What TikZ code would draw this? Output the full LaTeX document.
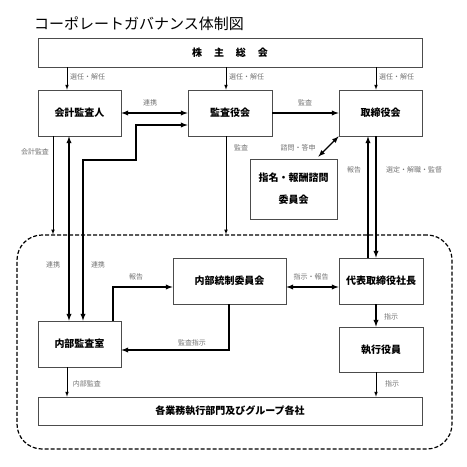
\documentclass[tikz,border=0pt]{standalone}
\usepackage{fontspec}
\setmainfont{Noto Sans CJK JP}
\usetikzlibrary{calc}
\tikzset{>=latex}
\tikzset{
    box/.style = {draw=black!70, line width=0.7pt, fill=white, inner sep=0pt,
                  minimum width=83pt, minimum height=46pt,
                  font=\bfseries\fontsize{10}{12}\selectfont},
    lab/.style = {text=black!55, inner sep=0pt, font=\fontsize{7}{8}\selectfont},
    conn/.style = {line width=0.7pt},
    connthick/.style = {line width=1.3pt},
}

\begin{document}
\begin{tikzpicture}[x=1pt,y=-1pt]

    \useasboundingbox (0,0) rectangle (467,467);

    \node[font=\fontsize{15}{18}\selectfont] (title) at (139,24) {コーポレートガバナンス体制図};

    % executive side
    \node[draw, line width=1.2pt, dash pattern=on 4pt off 2pt, rounded corners=25pt,
          minimum width=435pt, minimum height=214pt] (group) at (234.5,342) {};

    \node[box, minimum width=384pt, minimum height=29pt] (kabu) at (230,52.5) {株\hspace{12pt}主\hspace{12pt}総\hspace{12pt}会};

    \node[box] (kaikei) at (79.5,113) {会計監査人};
    \node[box, minimum width=84pt] (kansa) at (230,113) {監査役会};
    \node[box] (torishimari) at (380.5,113) {取締役会};
    \node[box, minimum width=87pt, minimum height=60pt, align=center,
          font=\bfseries\fontsize{10}{22}\selectfont] (shimei) at (293.5,189) {指名・報酬諮問\\委員会};

    \node[box, minimum width=113pt] (naibutousei) at (229.5,281) {内部統制委員会};
    \node[box, minimum width=84pt] (daihyo) at (381,281) {代表取締役社長};
    \node[box, minimum width=84pt, minimum height=45pt] (shikko) at (381,349.5) {執行役員};
    \node[box] (naibukansa) at (79.5,344) {内部監査室};
    \node[box, minimum width=384pt, minimum height=28pt] (kakubumon) at (230,411) {各業務執行部門及びグループ各社};

    % columns and rows of the connectors
    \coordinate (colA) at (53,0);
    \coordinate (colB) at (67,0);
    \coordinate (colC) at (69,0);
    \coordinate (colD) at (83,0);
    \coordinate (colE) at (113,0);
    \coordinate (colF) at (136,0);
    \coordinate (colG) at (226,0);
    \coordinate (colH) at (229,0);
    \coordinate (colR) at (368,0);
    \coordinate (colS) at (376,0);
    \coordinate (rowJ) at (0,160);
    \coordinate (rowK) at (0,125);
    \coordinate (rowL) at (0,287);
    \coordinate (rowM) at (0,350);

    \draw[conn,->] (kabu.south -| colB) -- (kaikei.north -| colB);
    \draw[conn,->] (kabu.south -| colG) -- (kansa.north -| colG);
    \draw[conn,->] (kabu.south -| colS) -- (torishimari.north -| colS);
    \node[lab, anchor=west] (sen1) at (70,77) {選任・解任};
    \node[lab, anchor=west] (sen2) at (229,77) {選任・解任};
    \node[lab, anchor=west] (sen3) at (379,77) {選任・解任};

    \draw[connthick,<->] (kaikei.east) -- (kansa.west);
    \node[lab] (renkei1) at (150,103) {連携};
    \draw[connthick,->] (kansa.east) -- (torishimari.west);
    \node[lab] (kansa1) at (305,103) {監査};

    \draw[conn,->] (kaikei.south -| colA) -- (group.north -| colA);
    \node[lab] (kaikeikansa) at (35,152) {会計監査};
    \draw[conn,->] (kansa.south -| colG) -- (group.north -| colG);
    \node[lab] (kansa2) at (241,148) {監査};

    \draw[connthick,<->] (torishimari.south west) -- ($(shimei.north east)+(-19,-2)$);
    \node[lab] (shimon) at (298,148) {諮問・答申};

    \draw[connthick,->] (daihyo.north -| colR) -- (torishimari.south -| colR);
    \draw[connthick,->] (torishimari.south -| colS) -- (daihyo.north -| colS);
    \node[lab] (houkoku1) at (354,170) {報告};
    \node[lab] (sentei) at (414,170) {選定・解職・監督};

    \draw[connthick,<->] (kaikei.south -| colC) -- (naibukansa.north -| colC);
    \node[lab] (renkei2) at (53,265) {連携};
    \draw[connthick,<->] (naibukansa.north -| colD) -- (colD |- rowJ) -- (colF |- rowJ)
        -- (colF |- rowK) -- (kansa.west |- rowK);
    \node[lab] (renkei3) at (98,265) {連携};

    \draw[connthick,->] (naibukansa.north -| colE) -- (colE |- rowL) -- (naibutousei.west |- rowL);
    \node[lab] (houkoku2) at (136,277) {報告};
    \draw[connthick,->] (naibutousei.south -| colH) -- (colH |- rowM) -- (naibukansa.east |- rowM);
    \node[lab] (kansashiji) at (192,343) {監査指示};

    \draw[connthick,<->] (naibutousei.east |- rowL) -- (daihyo.west |- rowL);
    \node[lab] (shijihoukoku) at (311,277) {指示・報告};

    \draw[connthick,->] (daihyo.south -| colS) -- (shikko.north -| colS);
    \node[lab] (shiji1) at (391,317) {指示};

    \draw[conn,->] (naibukansa.south -| colB) -- (kakubumon.north -| colB);
    \node[lab] (naibu) at (87,384) {内部監査};
    \draw[conn,->] (shikko.south -| colS) -- (kakubumon.north -| colS);
    \node[lab] (shiji2) at (392,384) {指示};

\end{tikzpicture}
\end{document}
